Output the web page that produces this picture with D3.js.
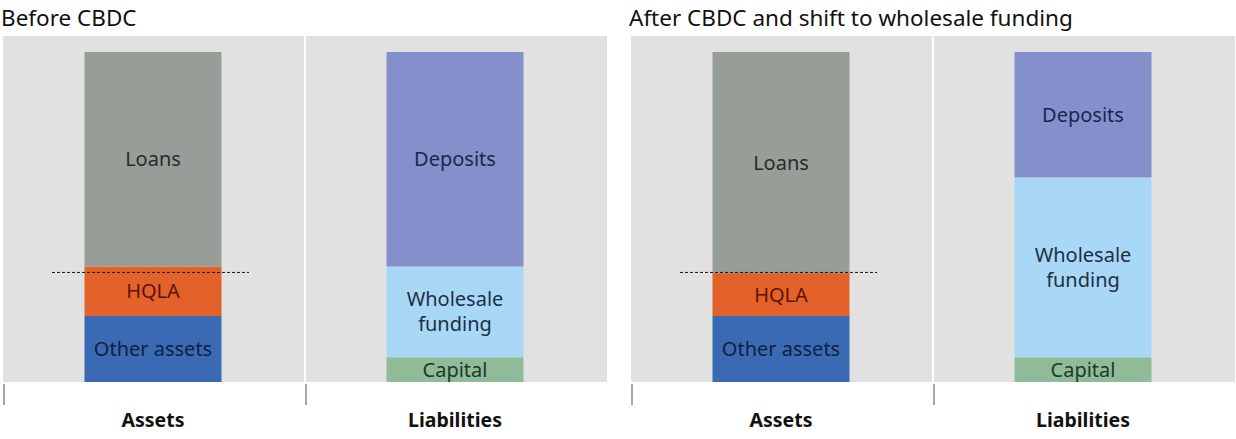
<!DOCTYPE html>
<html>
<head>
<meta charset="utf-8">
<script src="https://cdn.jsdelivr.net/npm/d3@7"></script>
<style>
  body { margin: 0; background: #fff; }
  svg text { font-family: "Noto Sans", "Open Sans", sans-serif; }
</style>
</head>
<body>
<div id="chart"></div>
<script>
// balance sheet shares, in % of the total balance sheet
var panels = ["Before CBDC", "After CBDC and shift to wholesale funding"];
var sides = ["Assets", "Liabilities"];

var assetItems = ["Other assets", "HQLA", "Loans"];
var assetsBefore = [20, 15, 65];
var assetsAfter = [20, 13, 67];

var liabItems = ["Capital", "Wholesale funding", "Deposits"];
var liabBefore = [7.5, 27.5, 65];
var liabAfter = [7.5, 54.5, 38];

// liquidity requirement marker (dashed line)
var hqlaLine = [33.2, 33.2];

var colors = {
  "Loans": "#979d97", "HQLA": "#e2622a", "Other assets": "#3b6ab4",
  "Deposits": "#8490cb", "Wholesale funding": "#a9d8f6", "Capital": "#90bb99"
};
var textColors = {
  "Loans": "#2b2b2b", "HQLA": "#5a1408", "Other assets": "#0f1f45",
  "Deposits": "#1c2550", "Wholesale funding": "#1d2f45", "Capital": "#1d3a24"
};

var width = 1236, height = 439;
var panelX = [3, 631], panelW = 604;
var plotTop = 36, plotBase = 382;

var svg = d3.select("#chart").append("svg")
  .attr("width", width)
  .attr("height", height);

var y = d3.scaleLinear().domain([0, 100]).range([plotBase, 52]);

function stack(items, vals) {
  var acc = 0;
  return items.map(function(name, i) {
    var d = { name: name, y0: acc, y1: acc + vals[i] };
    acc += vals[i];
    return d;
  });
}

var data = [
  [stack(assetItems, assetsBefore), stack(liabItems, liabBefore)],
  [stack(assetItems, assetsAfter), stack(liabItems, liabAfter)]
];

panels.forEach(function(title, p) {
  var x = d3.scaleBand().domain(sides).range([panelX[p], panelX[p] + panelW]);
  var g = svg.append("g");

  g.append("text")
    .attr("x", panelX[p] - 2)
    .attr("y", 26)
    .attr("font-size", 22.5)
    .attr("fill", "#111")
    .text(title);

  // gray plot background, one per category with a white gap
  g.selectAll("rect.bg")
    .data(sides)
    .enter().append("rect")
    .attr("class", "bg")
    .attr("x", function(d, i) { return x(d) + (i ? 1 : 0); })
    .attr("y", plotTop)
    .attr("width", x.bandwidth() - 1)
    .attr("height", plotBase - plotTop)
    .attr("fill", "#e1e1e1");

  var barW = 137;
  sides.forEach(function(side, s) {
    var cx = x(side) + x.bandwidth() / 2 - 1;
    var segs = data[p][s];

    g.selectAll("rect.seg" + s)
      .data(segs)
      .enter().append("rect")
      .attr("class", "seg" + s)
      .attr("x", cx - barW / 2)
      .attr("y", function(d) { return y(d.y1); })
      .attr("width", barW)
      .attr("height", function(d) { return y(d.y0) - y(d.y1); })
      .attr("fill", function(d) { return colors[d.name]; });

    g.selectAll("text.lab" + s)
      .data(segs)
      .enter().append("text")
      .attr("class", "lab" + s)
      .attr("text-anchor", "middle")
      .attr("font-size", 20)
      .attr("fill", function(d) { return textColors[d.name]; })
      .each(function(d) {
        var mid = (y(d.y0) + y(d.y1)) / 2;
        var lines = d.name == "Wholesale funding" ? ["Wholesale", "funding"] : [d.name];
        var t = d3.select(this);
        lines.forEach(function(l, k) {
          t.append("tspan")
            .attr("x", cx)
            .attr("y", mid + 7 + (k - (lines.length - 1) / 2) * 25)
            .text(l);
        });
      });
  });

  // dashed line across the assets bar
  var ax = x("Assets") + x.bandwidth() / 2 - 1;
  g.append("line")
    .attr("x1", ax - 101)
    .attr("x2", ax + 96)
    .attr("y1", y(hqlaLine[p]))
    .attr("y2", y(hqlaLine[p]))
    .attr("stroke", "#111")
    .attr("stroke-width", 1)
    .attr("stroke-dasharray", "3,2");

  // category axis: ticks between categories, bold labels
  var axis = g.append("g").attr("transform", "translate(0," + (plotBase + 2) + ")");
  axis.selectAll("line")
    .data(sides)
    .enter().append("line")
    .attr("x1", function(d) { return x(d) + 1; })
    .attr("x2", function(d) { return x(d) + 1; })
    .attr("y1", 0)
    .attr("y2", 21)
    .attr("stroke", "#8a8a8a")
    .attr("stroke-width", 1.5);
  axis.selectAll("text")
    .data(sides)
    .enter().append("text")
    .attr("x", function(d) { return x(d) + x.bandwidth() / 2 - 1; })
    .attr("y", 43)
    .attr("text-anchor", "middle")
    .attr("font-size", 19.5)
    .attr("font-weight", "bold")
    .attr("fill", "#111")
    .text(function(d) { return d; });
});
</script>
</body>
</html>
